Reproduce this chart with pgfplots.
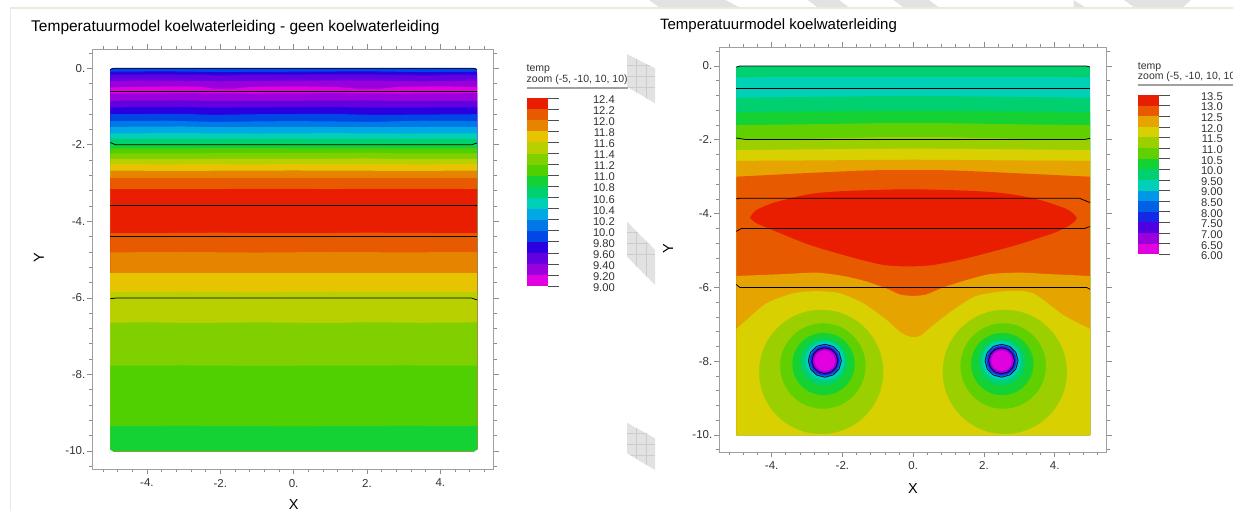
\documentclass[border=0pt]{standalone}
\usepackage{pgfplots}
\pgfplotsset{compat=1.18}
\usepackage{fontspec}
\setmainfont{Liberation Sans}
\definecolor{c1}{HTML}{E91E00}
\definecolor{c2}{HTML}{E85A00}
\definecolor{c3}{HTML}{E68400}
\definecolor{c4}{HTML}{E6C400}
\definecolor{c5}{HTML}{B8D000}
\definecolor{c6}{HTML}{80D000}
\definecolor{c7}{HTML}{50D000}
\definecolor{c8}{HTML}{14D234}
\definecolor{c9}{HTML}{00D070}
\definecolor{c10}{HTML}{00D0B8}
\definecolor{c11}{HTML}{00A8E6}
\definecolor{c12}{HTML}{0078E6}
\definecolor{c13}{HTML}{0048E6}
\definecolor{c14}{HTML}{2A00E0}
\definecolor{c15}{HTML}{6400E0}
\definecolor{c16}{HTML}{9A00DC}
\definecolor{c17}{HTML}{E000E0}
\definecolor{r3}{HTML}{E6A400}
\definecolor{r4}{HTML}{D8D000}
\definecolor{r5}{HTML}{9CCF00}
\definecolor{r6}{HTML}{60D000}
\definecolor{r11}{HTML}{0098E6}
\definecolor{r12}{HTML}{0060E6}
\definecolor{r13}{HTML}{1428E6}
\definecolor{r14}{HTML}{5000E0}
\definecolor{framegray}{HTML}{A0A0A0}
\definecolor{tickgray}{HTML}{8C8C8C}
\definecolor{txt}{HTML}{333333}
\definecolor{cream}{HTML}{EDE9DD}
\definecolor{hatchfill}{HTML}{E2E2E2}
\definecolor{hatchline}{HTML}{CCCCCC}
\newcommand\band[2]{\addplot[fill=#1,draw=none] coordinates {#2 (5,-10)(-5,-10)} --cycle;}
\newcommand\sband[2]{\addplot[fill=#1,draw=none,smooth,tension=0.45] coordinates {#2} -- (5,-10) -- (-5,-10) -- cycle;}
\newcommand\patch[2]{\addplot[fill=#1,draw=none] coordinates {#2} --cycle;}
\newcommand\iso[1]{\addplot[black,line width=0.75pt] coordinates {#1};}
\newcommand\disc[3]{\addplot[only marks,mark=*,mark size=#2pt,mark options={draw=#1,line width=0.1pt,fill=#1}] coordinates {#3};}
\newcommand\isoloop[1]{\addplot[black,line width=0.6pt] coordinates {#1};}
\newcommand\hatch[8]{%
  \begin{scope}
  \clip (#1pt,-#2pt)--(#3pt,-#4pt)--(#5pt,-#6pt)--(#7pt,-#8pt)--cycle;
  \fill[hatchfill] (#1pt,-#2pt)--(#3pt,-#4pt)--(#5pt,-#6pt)--(#7pt,-#8pt)--cycle;
  \foreach \gx in {636,646,656}{\draw[hatchline,line width=0.7pt] (\gx pt,-#2pt) -- (\gx pt,-#6pt);}
  \foreach \gk in {1,2,3}{\draw[hatchline,line width=0.7pt] (#1pt,-#2pt-\gk*11pt) -- (#5pt,-#2pt-\gk*11pt);}
  \end{scope}}
\pgfplotsset{
  fieldaxis/.style={
    scale only axis, no markers, axis on top=false,
    clip mode=individual, clip marker paths=true,
    font=\fontsize{11.5}{13}\selectfont,
    tick align=outside, major tick length=5pt, minor tick length=3pt,
    tick style={tickgray,line width=0.7pt},
    axis line style={framegray,line width=1pt},
    xtick={-4,-2,0,2,4}, xticklabels={-4.,-2.,0.,2.,4.},
    ytick={0,-2,-4,-6,-8,-10}, yticklabels={0.,-2.,-4.,-6.,-8.,-10.},
    minor xtick={-5.2,-4.8,-4.4,-3.6,-3.2,-2.8,-2.4,-1.6,-1.2,-0.8,-0.4,0.4,0.8,1.2,1.6,2.4,2.8,3.2,3.6,4.4,4.8,5.2},
    minor ytick={0.4,-0.4,-0.8,-1.2,-1.6,-2.4,-2.8,-3.2,-3.6,-4.4,-4.8,-5.2,-5.6,-6.4,-6.8,-7.2,-7.6,-8.4,-8.8,-9.2,-9.6,-10.4},
    xticklabel style={txt,inner sep=0pt,yshift=-4.5pt},
    yticklabel style={txt,inner sep=0pt,xshift=-1.8pt},
    title style={text=black,inner sep=0pt,anchor=base west,yshift=0pt},
    xlabel style={font=\fontsize{14.5}{16}\selectfont,text=black,inner sep=0pt,anchor=center},
    ylabel style={font=\fontsize{14.5}{16}\selectfont,text=black,inner sep=0pt,anchor=center},
  },
  legendaxis/.style={
    scale only axis, no markers, xmin=0, xmax=1, xtick=\empty,
    axis line style={draw=none},
    ytick pos=right, tick align=outside, major tick length=11pt,
    tick style={black!70,line width=0.7pt},
    yticklabel style={font=\fontsize{11.2}{11}\selectfont,txt,inner sep=0pt,anchor=east,yshift=-1.5pt},
  },
}
\begin{document}
\begin{tikzpicture}
\path[use as bounding box] (0,0) rectangle (1233pt,-511pt);
\fill[white] (0,0) rectangle (1233pt,-511pt);
% page edge
\fill[cream] (9.5pt,-7.5pt) rectangle (1233pt,-9pt);
\fill[cream] (9.5pt,-7.5pt) rectangle (11pt,-511pt);
% hatched strips along the top
\foreach \a/\b/\c/\d in {649/659/739/725.5,807.6/817.4/848.7/839,893.6/903.4/938.6/928.8,1124/1134/1183/1191}{
  \fill[hatchfill] (\a pt,0pt)--(\b pt,-7.2pt)--(\c pt,-7.2pt)--(\d pt,0pt)--cycle;}
\fill[hatchfill] (1073.5pt,0pt)--(1085pt,-7.2pt)--(1073.5pt,-7.2pt)--cycle;

% ---------- left field ----------
\begin{axis}[fieldaxis,
  at={(92.3pt,-469.3pt)},anchor=south west,width=401.4pt,height=420pt,
  xmin=-5.49,xmax=5.455,ymin=-10.478,ymax=0.496,
  title={Temperatuurmodel koelwaterleiding - geen koelwaterleiding},
  title style={font=\fontsize{15.5}{17}\selectfont,at={(axis description cs:-0.1527,1.029)}},
  xlabel={X},xlabel style={at={(axis description cs:0.502,-0.085)}},
  ylabel={Y},ylabel style={at={(axis description cs:-0.1328,0.503)}},
]
\band{c13}{(-5,0)(5,0)}
\band{c14}{(-5,-0.09)(-3.5,-0.08)(-2,-0.10)(0,-0.09)(2,-0.08)(3.5,-0.10)(5,-0.09)}
\band{c15}{(-5,-0.175)(-3.5,-0.165)(-2,-0.185)(0,-0.17)(2,-0.165)(3.5,-0.185)(5,-0.175)}
\band{c16}{(-5,-0.33)(-3.5,-0.32)(-2,-0.34)(0,-0.32)(2,-0.32)(3.5,-0.34)(5,-0.33)}
\band{c17}{(-5,-0.50)(-4,-0.48)(-3,-0.47)(-2.5,-0.49)(-2.1,-0.54)(-1.6,-0.53)(-1.2,-0.49)(0,-0.47)(1.2,-0.49)(1.7,-0.53)(2.3,-0.54)(2.8,-0.49)(4,-0.47)(5,-0.49)}
\band{c16}{(-5,-0.66)(-3,-0.65)(-1,-0.66)(1,-0.65)(3,-0.66)(5,-0.65)}
\band{c15}{(-5,-0.85)(-3,-0.84)(-2,-0.86)(0,-0.85)(2,-0.84)(3,-0.86)(5,-0.85)}
\band{c14}{(-5,-1.02)(-3,-1.01)(-2.2,-1.03)(-1,-1.02)(1,-1.01)(2.2,-1.03)(5,-1.02)}
\band{c13}{(-5,-1.20)(-3,-1.19)(-2.2,-1.22)(-1,-1.20)(1,-1.19)(2.2,-1.22)(5,-1.20)}
\band{c12}{(-5,-1.38)(-3.5,-1.37)(-2.2,-1.40)(0,-1.38)(2.2,-1.40)(3.5,-1.37)(5,-1.38)}
\band{c11}{(-5,-1.53)(-3,-1.52)(-2.2,-1.54)(0,-1.53)(2.2,-1.54)(5,-1.53)}
\band{c10}{(-5,-1.70)(-3,-1.695)(-1,-1.705)(1,-1.695)(3,-1.705)(5,-1.70)}
\band{c9}{(-5,-1.84)(-3,-1.845)(-1,-1.835)(1,-1.845)(3,-1.835)(5,-1.84)}
\band{c8}{(-5,-2.005)(-3,-2.01)(0,-2.00)(3,-2.01)(5,-2.005)}
\band{c7}{(-5,-2.09)(-3.5,-2.095)(-2,-2.085)(0,-2.09)(2,-2.095)(5,-2.09)}
\band{c6}{(-5,-2.22)(-3,-2.225)(-1.5,-2.215)(0,-2.22)(2,-2.21)(3,-2.225)(5,-2.22)}
\band{c5}{(-5,-2.37)(-3,-2.375)(-1.5,-2.365)(0,-2.37)(2,-2.355)(3,-2.375)(5,-2.37)}
\band{c4}{(-5,-2.50)(-3.5,-2.51)(-2,-2.50)(-1.5,-2.515)(0,-2.50)(2,-2.50)(3.5,-2.51)(5,-2.50)}
\band{c3}{(-5,-2.675)(-3,-2.68)(0,-2.67)(3,-2.68)(5,-2.675)}
\band{c2}{(-5,-2.875)(5,-2.875)}
\band{c1}{(-5,-3.155)(-3,-3.16)(-1,-3.15)(1,-3.155)(3,-3.15)(5,-3.155)}
\band{c2}{(-5,-4.31)(-3.5,-4.305)(-2,-4.295)(-1,-4.31)(1,-4.305)(2,-4.295)(5,-4.31)}
\band{c3}{(-5,-4.81)(-3,-4.80)(-1,-4.815)(1,-4.80)(3,-4.81)(5,-4.80)}
\band{c4}{(-5,-5.34)(5,-5.34)}
\band{c5}{(-5,-5.85)(-3,-5.845)(-1,-5.855)(1,-5.845)(3,-5.85)(5,-5.845)}
\band{c6}{(-5,-6.65)(-4,-6.635)(-3,-6.655)(-1,-6.64)(1,-6.655)(2,-6.635)(3.5,-6.65)(5,-6.64)}
\band{c7}{(-5,-7.77)(-3,-7.765)(-1,-7.775)(1,-7.77)(3,-7.765)(5,-7.77)}
\band{c8}{(-5,-9.35)(-3,-9.345)(0,-9.355)(3,-9.345)(5,-9.35)}
\patch{white}{(-5.02,-10.02)(-5.02,-9.96)(-4.92,-10.02)}
\patch{white}{(5.02,-10.02)(5.02,-9.96)(4.92,-10.02)}
\patch{white}{(-5.02,0.02)(-5.02,-0.03)(-4.92,0.02)}
\patch{white}{(5.02,0.02)(5.02,-0.03)(4.92,0.02)}
\iso{(-5,-0.03)(-4.9,0)(4.9,0)(5,-0.03)}
\iso{(-5,-0.606)(5,-0.606)}
\iso{(-5,-1.94)(-4.85,-2)(4.85,-2)(5,-1.95)}
\iso{(-5,-3.59)(5,-3.59)}
\iso{(-5,-4.39)(5,-4.39)}
\iso{(-5,-6.02)(-4.85,-6.005)(4.85,-6.005)(5,-6.05)}
\end{axis}

% ---------- right field ----------
\begin{axis}[fieldaxis,
  at={(719.3pt,-452pt)},anchor=south west,width=387.4pt,height=404.7pt,
  xmin=-5.48,xmax=5.47,ymin=-10.46,ymax=0.507,
  title={Temperatuurmodel koelwaterleiding},
  title style={font=\fontsize{15}{17}\selectfont,at={(axis description cs:-0.1533,1.028)}},
  xlabel={X},xlabel style={at={(axis description cs:0.5,-0.089)}},
  ylabel={Y},ylabel style={at={(axis description cs:-0.132,0.502)}},
]
\band{c9}{(-5,0)(5,0)}
\sband{c10}{(-5,-0.31)(-3,-0.30)(0,-0.30)(3,-0.30)(5,-0.31)}
\sband{c9}{(-5,-0.86)(-3,-0.84)(0,-0.81)(3,-0.84)(5,-0.86)}
\sband{c8}{(-5,-1.25)(-3,-1.23)(0,-1.22)(3,-1.23)(5,-1.25)}
\sband{r6}{(-5,-1.60)(-3,-1.58)(-1,-1.55)(1,-1.55)(3,-1.58)(5,-1.60)}
\sband{r5}{(-5,-1.99)(-3,-1.97)(-1,-1.93)(1,-1.93)(3,-1.97)(5,-1.99)}
\sband{r4}{(-5,-2.28)(-3,-2.26)(0,-2.24)(3,-2.26)(5,-2.28)}
\sband{r3}{(-5,-2.57)(-3,-2.56)(0,-2.54)(3,-2.56)(5,-2.57)}
\sband{c2}{(-5,-3.00)(-3.2,-2.91)(-1.32,-2.83)(-0.1,-2.82)(1.13,-2.83)(3.02,-2.91)(5,-3.00)}
\addplot[fill=c1,draw=none,smooth,tension=0.45] coordinates {(-4.617,-4.11)(-4.43,-3.90)(-3.86,-3.68)(-2.92,-3.47)(-1.98,-3.39)(-0.1,-3.34)(1.79,-3.39)(2.74,-3.47)(3.58,-3.63)(4.34,-3.88)(4.62,-4.11)(4.43,-4.31)(3.96,-4.53)(2.92,-4.85)(1.51,-5.21)(0.57,-5.39)(-0.1,-5.43)(-0.85,-5.39)(-1.79,-5.17)(-2.92,-4.85)(-3.86,-4.49)(-4.43,-4.26)(-4.617,-4.11)} --cycle;
\sband{r3}{(-5,-5.69)(-3.67,-5.64)(-2.73,-5.60)(-1.98,-5.69)(-1.32,-5.84)(-0.75,-6.03)(-0.38,-6.19)(0,-6.23)(0.38,-6.19)(0.85,-6.0)(1.51,-5.80)(2.17,-5.64)(3.02,-5.60)(3.87,-5.64)(5,-5.69)}
\sband{r4}{(-5,-7.127)(-4.71,-6.883)(-4.146,-6.43)(-3.39,-6.16)(-2.73,-6.10)(-2.07,-6.16)(-1.41,-6.43)(-0.75,-6.883)(-0.38,-7.20)(-0.10,-7.335)(0.19,-7.315)(0.57,-7.02)(1.13,-6.61)(1.79,-6.23)(2.64,-6.10)(3.39,-6.16)(4.25,-6.75)(5,-7.127)}
\disc{r5}{62}{(-2.60,-8.29)(2.59,-8.29)}
\disc{r6}{42.6}{(-2.553,-8.13)(2.545,-8.13)}
\disc{c8}{31}{(-2.534,-8.076)(2.517,-8.076)}
\disc{c9}{23.2}{(-2.525,-8.02)(2.508,-8.02)}
\disc{c10}{19.3}{(-2.497,-7.986)(2.498,-7.986)}
\disc{r11}{16.6}{(-2.497,-7.986)(2.498,-7.986)}
\disc{r12}{15.3}{(-2.497,-7.986)(2.498,-7.986)}
\disc{r13}{14.3}{(-2.497,-7.986)(2.498,-7.986)}
\disc{r14}{13.3}{(-2.497,-7.986)(2.498,-7.986)}
\disc{c16}{12.3}{(-2.497,-7.986)(2.498,-7.986)}
\disc{c17}{10.3}{(-2.497,-7.986)(2.498,-7.986)}
\isoloop{(-2.03,-7.986)(-2.093,-7.762)(-2.263,-7.599)(-2.497,-7.539)(-2.731,-7.599)(-2.901,-7.762)(-2.964,-7.986)(-2.901,-8.21)(-2.731,-8.373)(-2.497,-8.433)(-2.263,-8.373)(-2.093,-8.21)(-2.03,-7.986)}
\isoloop{(2.965,-7.986)(2.902,-7.762)(2.732,-7.599)(2.498,-7.539)(2.264,-7.599)(2.094,-7.762)(2.031,-7.986)(2.094,-8.21)(2.264,-8.373)(2.498,-8.433)(2.732,-8.373)(2.902,-8.21)(2.965,-7.986)}
\isoloop{(-2.132,-7.986)(-2.181,-7.811)(-2.314,-7.683)(-2.497,-7.636)(-2.68,-7.683)(-2.813,-7.811)(-2.862,-7.986)(-2.813,-8.161)(-2.68,-8.289)(-2.497,-8.336)(-2.314,-8.289)(-2.181,-8.161)(-2.132,-7.986)}
\isoloop{(2.863,-7.986)(2.814,-7.811)(2.681,-7.683)(2.498,-7.636)(2.315,-7.683)(2.182,-7.811)(2.133,-7.986)(2.182,-8.161)(2.315,-8.289)(2.498,-8.336)(2.681,-8.289)(2.814,-8.161)(2.863,-7.986)}
\patch{white}{(-5.02,0.02)(-5.02,-0.03)(-4.9,0.02)}
\patch{white}{(5.02,0.02)(5.02,-0.03)(4.9,0.02)}
\iso{(-5,-0.03)(-4.9,0)(4.9,0)(5,-0.03)}
\iso{(-5,-0.605)(5,-0.605)}
\iso{(-5,-1.95)(-4.75,-1.99)(4.85,-1.99)(5,-1.96)}
\iso{(-5,-3.60)(-4.9,-3.585)(4.7,-3.585)(5,-3.70)}
\iso{(-5,-4.48)(-4.85,-4.40)(4.85,-4.40)(5,-4.35)}
\iso{(-5,-5.92)(-4.9,-6)(4.9,-6)(5,-6.05)}
\end{axis}

% ---------- left colour key ----------
\begin{axis}[legendaxis,
  at={(526.5pt,-286pt)},anchor=south west,width=21.5pt,height=187.7pt,
  ymin=9,ymax=12.4,
  yticklabel style={xshift=56pt},
  ytick={9,9.2,9.4,9.6,9.8,10,10.2,10.4,10.6,10.8,11,11.2,11.4,11.6,11.8,12,12.2,12.4},
  yticklabels={9.00,9.20,9.40,9.60,9.80,10.0,10.2,10.4,10.6,10.8,11.0,11.2,11.4,11.6,11.8,12.0,12.2,12.4},
]
\patch{c17}{(0,9.0)(1,9.0)(1,9.2)(0,9.2)}
\patch{c16}{(0,9.2)(1,9.2)(1,9.4)(0,9.4)}
\patch{c15}{(0,9.4)(1,9.4)(1,9.6)(0,9.6)}
\patch{c14}{(0,9.6)(1,9.6)(1,9.8)(0,9.8)}
\patch{c13}{(0,9.8)(1,9.8)(1,10.0)(0,10.0)}
\patch{c12}{(0,10.0)(1,10.0)(1,10.2)(0,10.2)}
\patch{c11}{(0,10.2)(1,10.2)(1,10.4)(0,10.4)}
\patch{c10}{(0,10.4)(1,10.4)(1,10.6)(0,10.6)}
\patch{c9}{(0,10.6)(1,10.6)(1,10.8)(0,10.8)}
\patch{c8}{(0,10.8)(1,10.8)(1,11.0)(0,11.0)}
\patch{c7}{(0,11.0)(1,11.0)(1,11.2)(0,11.2)}
\patch{c6}{(0,11.2)(1,11.2)(1,11.4)(0,11.4)}
\patch{c5}{(0,11.4)(1,11.4)(1,11.6)(0,11.6)}
\patch{c4}{(0,11.6)(1,11.6)(1,11.8)(0,11.8)}
\patch{c3}{(0,11.8)(1,11.8)(1,12.0)(0,12.0)}
\patch{c2}{(0,12.0)(1,12.0)(1,12.2)(0,12.2)}
\patch{c1}{(0,12.2)(1,12.2)(1,12.4)(0,12.4)}
\end{axis}

% ---------- right colour key ----------
\begin{axis}[legendaxis,
  at={(1137.7pt,-254.3pt)},anchor=south west,width=21.3pt,height=159.3pt,
  ymin=6,ymax=13.5,
  yticklabel style={xshift=53pt},
  ytick={6,6.5,7,7.5,8,8.5,9,9.5,10,10.5,11,11.5,12,12.5,13,13.5},
  yticklabels={6.00,6.50,7.00,7.50,8.00,8.50,9.00,9.50,10.0,10.5,11.0,11.5,12.0,12.5,13.0,13.5},
]
\patch{c17}{(0,6.0)(1,6.0)(1,6.5)(0,6.5)}
\patch{c16}{(0,6.5)(1,6.5)(1,7.0)(0,7.0)}
\patch{r14}{(0,7.0)(1,7.0)(1,7.5)(0,7.5)}
\patch{r13}{(0,7.5)(1,7.5)(1,8.0)(0,8.0)}
\patch{r12}{(0,8.0)(1,8.0)(1,8.5)(0,8.5)}
\patch{r11}{(0,8.5)(1,8.5)(1,9.0)(0,9.0)}
\patch{c10}{(0,9.0)(1,9.0)(1,9.5)(0,9.5)}
\patch{c9}{(0,9.5)(1,9.5)(1,10.0)(0,10.0)}
\patch{c8}{(0,10.0)(1,10.0)(1,10.5)(0,10.5)}
\patch{r6}{(0,10.5)(1,10.5)(1,11.0)(0,11.0)}
\patch{r5}{(0,11.0)(1,11.0)(1,11.5)(0,11.5)}
\patch{r4}{(0,11.5)(1,11.5)(1,12.0)(0,12.0)}
\patch{r3}{(0,12.0)(1,12.0)(1,12.5)(0,12.5)}
\patch{c2}{(0,12.5)(1,12.5)(1,13.0)(0,13.0)}
\patch{c1}{(0,13.0)(1,13.0)(1,13.5)(0,13.5)}
\end{axis}

% key headings
\begin{scope}
\clip (520pt,-55pt) rectangle (627.5pt,-95pt);
\node[anchor=base west,inner sep=0pt,font=\fontsize{10.5}{12}\selectfont,text=txt] at (526.5pt,-71pt) {temp};
\node[anchor=base west,inner sep=0pt,font=\fontsize{10.5}{12}\selectfont,text=txt] at (526.5pt,-82pt) {zoom (-5, -10, 10, 10)};
\end{scope}
\fill[framegray] (526.5pt,-87.3pt) rectangle (627.5pt,-89pt);
\node[anchor=base west,inner sep=0pt,font=\fontsize{10.5}{12}\selectfont,text=txt] at (1137.7pt,-69.5pt) {temp};
\node[anchor=base west,inner sep=0pt,font=\fontsize{10.5}{12}\selectfont,text=txt] at (1137.7pt,-79.5pt) {zoom (-5, -10, 10, 10)};
\fill[framegray] (1137.7pt,-84.3pt) rectangle (1233pt,-86pt);

% hatched panels between the two fields
\hatch{627}{54}{655}{68.3}{655}{103.3}{627}{86.7}
\hatch{627}{221.7}{655}{250}{655}{285}{627}{256.7}
\hatch{627}{422.7}{655}{438.3}{655}{470}{627}{453.3}
\end{tikzpicture}
\end{document}
